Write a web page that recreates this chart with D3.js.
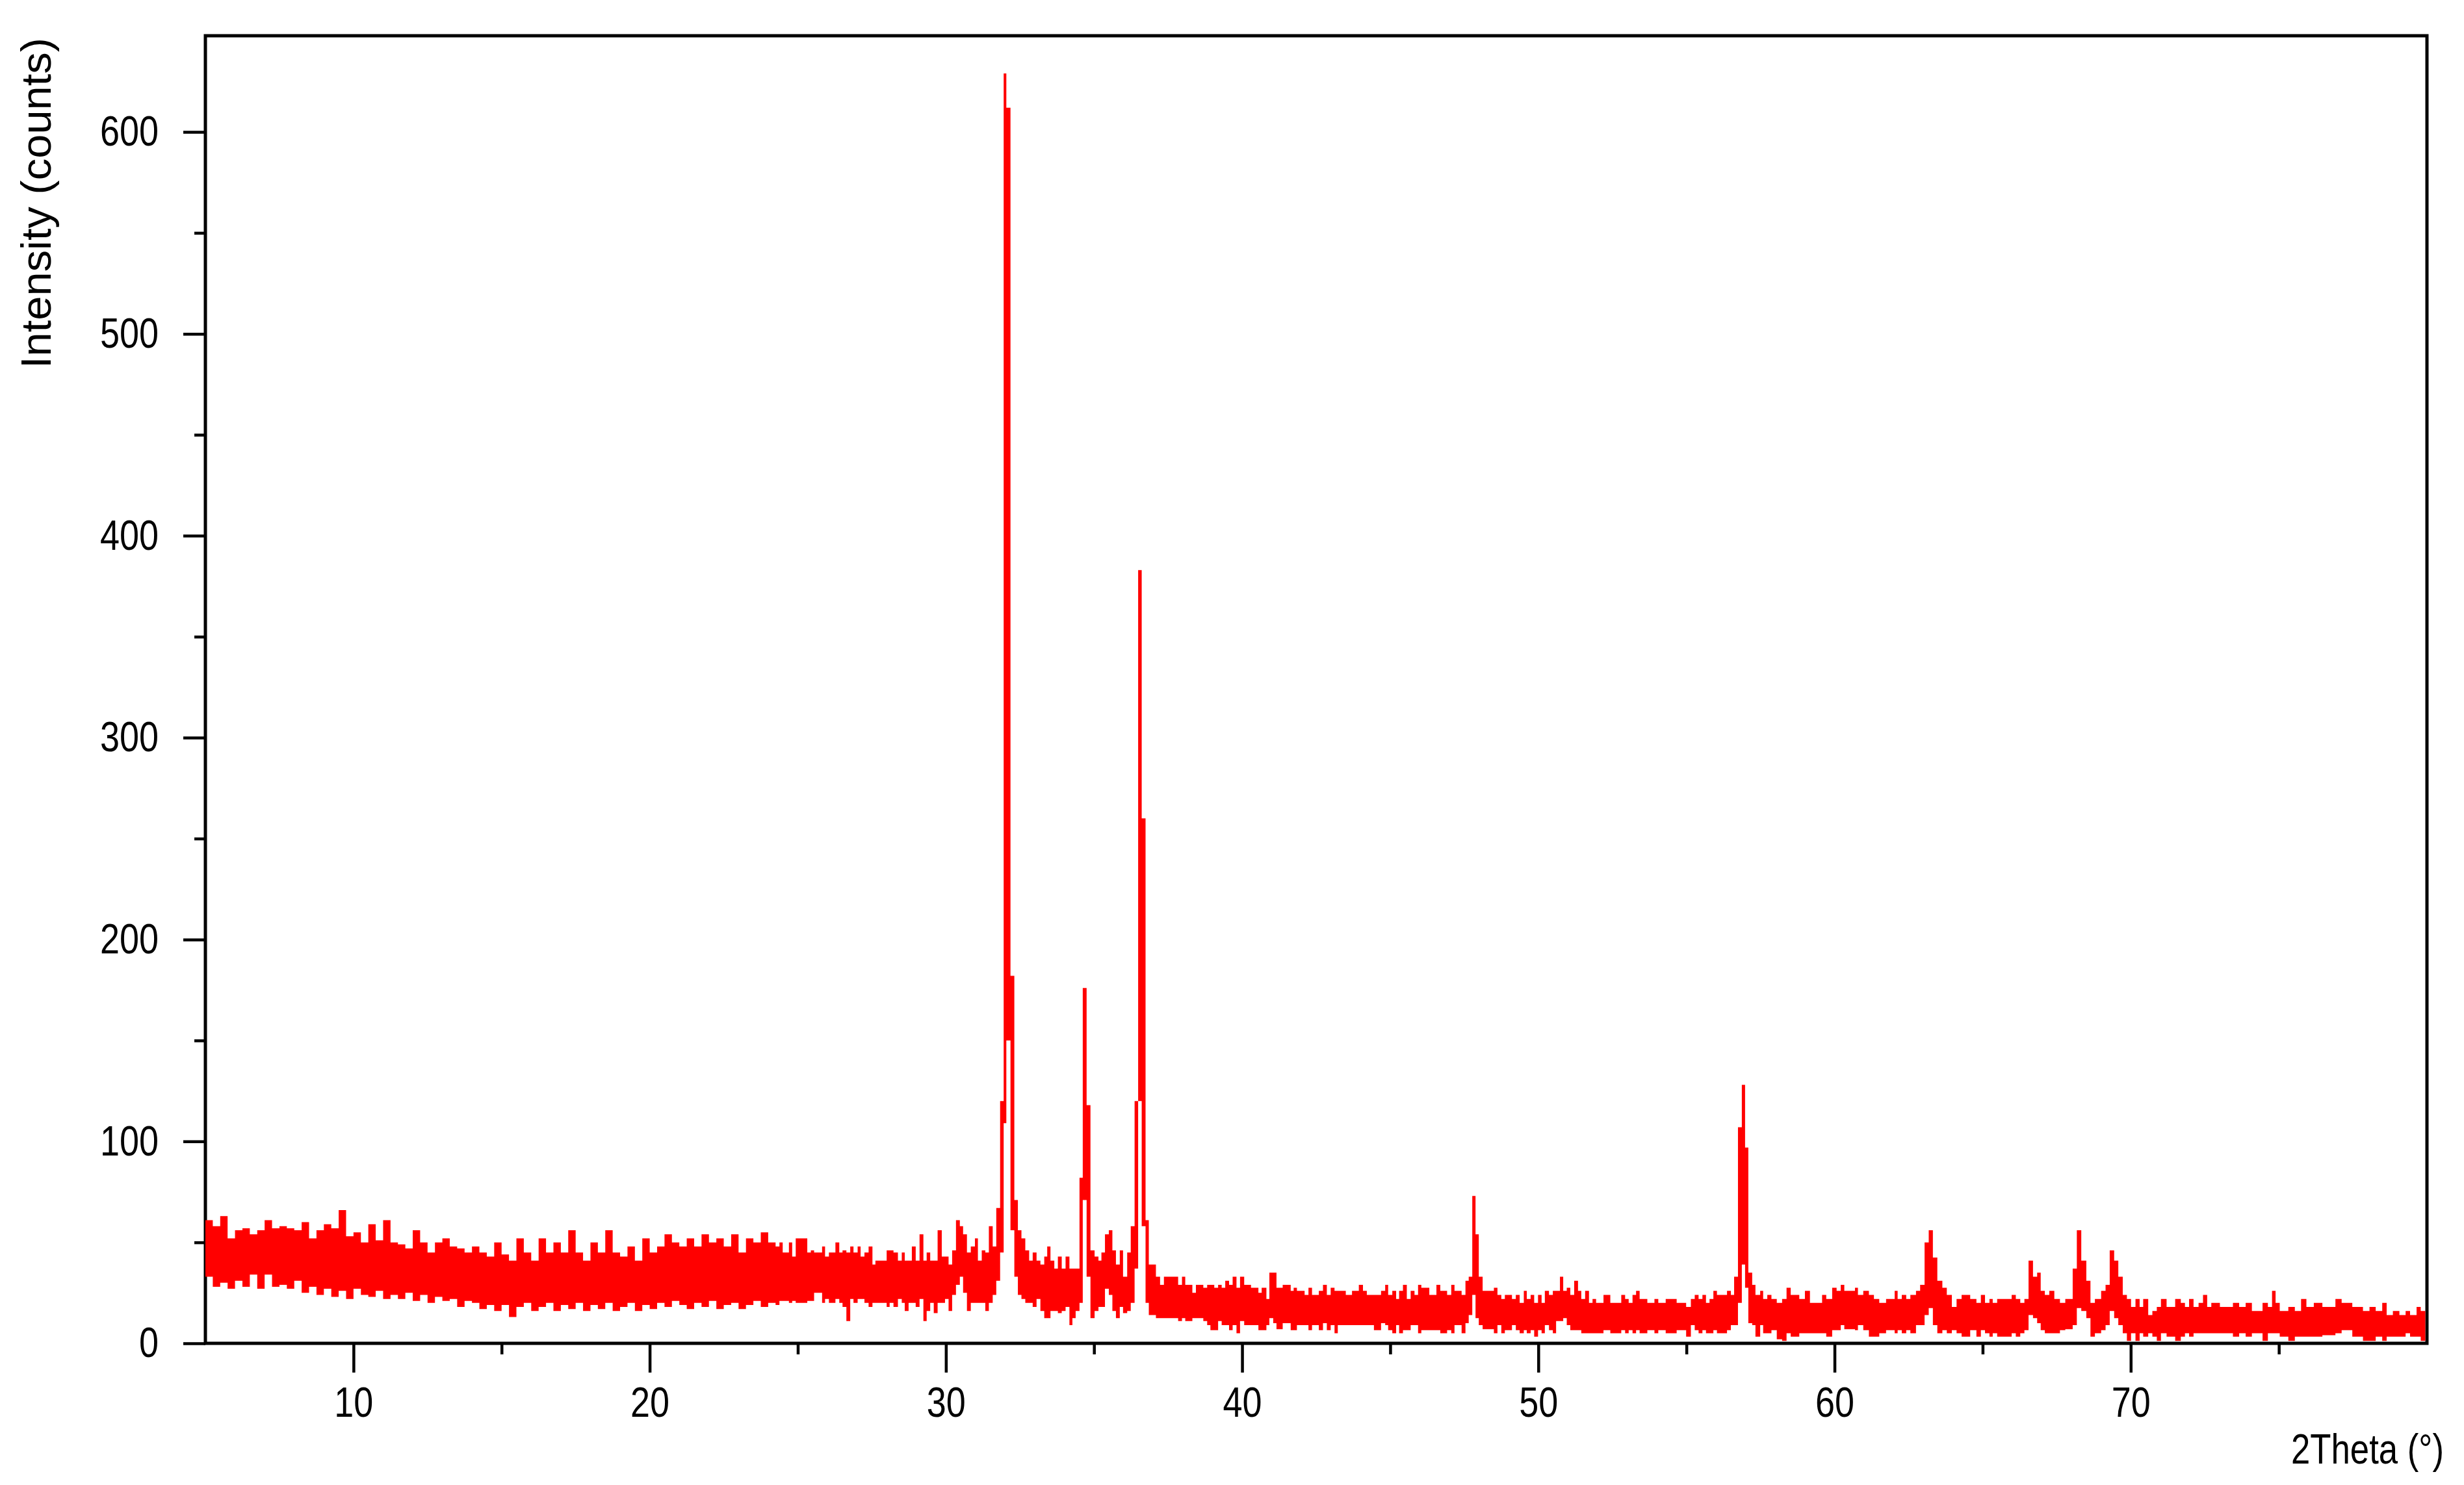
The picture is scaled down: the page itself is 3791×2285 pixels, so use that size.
<!DOCTYPE html>
<meta charset="utf-8">
<head>
    <script type="text/javascript" src="https://cdn.jsdelivr.net/npm/d3@7/dist/d3.min.js"></script>
    <style>
        body { margin: 0; background: #fff; }
        .tick text { font-family: "Liberation Sans", Arial, sans-serif; font-size: 65px; fill: #000; }
        .title { font-family: "Liberation Sans", Arial, sans-serif; font-size: 65px; fill: #000; }
    </style>
</head>
<body>
<div id="chart"></div>
<script>

// pattern as pixel columns: [2theta start, lowest count, highest count]
let band05to24 = [
    [5.0, 33, 61], [5.25, 28, 58], [5.5, 30, 63], [5.75, 27, 52], [6.0, 31, 56], [6.25, 28, 57],
    [6.5, 34, 54], [6.75, 27, 56], [7.0, 34, 61], [7.25, 28, 57], [7.5, 29, 58], [7.75, 27, 57],
    [8.0, 31, 56], [8.25, 25, 60], [8.5, 28, 52], [8.75, 24, 56], [9.0, 27, 59], [9.25, 23, 57],
    [9.5, 26, 66], [9.75, 22, 53], [10.0, 27, 55], [10.25, 24, 50], [10.5, 23, 59], [10.75, 26, 51],
    [11.0, 22, 61], [11.25, 24, 50], [11.5, 22, 49], [11.75, 25, 47], [12.0, 21, 56], [12.25, 24, 50],
    [12.5, 20, 45], [12.75, 23, 50], [13.0, 21, 52], [13.25, 22, 48], [13.5, 18, 47], [13.75, 21, 45],
    [14.0, 20, 48], [14.25, 17, 45], [14.5, 19, 43], [14.75, 16, 50], [15.0, 19, 44], [15.25, 13, 41],
    [15.5, 18, 52], [15.75, 20, 45], [16.0, 16, 41], [16.25, 18, 52], [16.5, 20, 45], [16.75, 16, 50],
    [17.0, 19, 45], [17.25, 17, 56], [17.5, 20, 45], [17.75, 16, 41], [18.0, 19, 50], [18.25, 17, 45],
    [18.5, 20, 56], [18.75, 16, 45], [19.0, 18, 43], [19.25, 20, 48], [19.5, 16, 41], [19.75, 19, 52],
    [20.0, 17, 45], [20.25, 20, 48], [20.5, 18, 54], [20.75, 21, 50], [21.0, 19, 48], [21.25, 17, 52],
    [21.5, 20, 48], [21.75, 18, 54], [22.0, 21, 50], [22.25, 17, 52], [22.5, 19, 48], [22.75, 20, 54],
    [23.0, 17, 45], [23.25, 19, 52], [23.5, 21, 50], [23.75, 18, 55], [24.0, 20, 50], [24.25, 19, 48]
]

let band24to41 = [
    [24.38, 21, 50], [24.49, 21, 45], [24.7, 20, 50], [24.81, 21, 43], [24.93, 20, 52], [25.32, 21, 45],
    [25.44, 21, 46], [25.55, 25, 45], [25.82, 20, 48], [25.92, 22, 43], [26.05, 20, 45], [26.27, 22, 50],
    [26.4, 20, 45], [26.51, 18, 46], [26.64, 11, 45], [26.77, 22, 48], [26.88, 20, 45], [27.02, 22, 48],
    [27.12, 22, 43], [27.25, 20, 45], [27.39, 18, 48], [27.52, 20, 39], [27.62, 20, 41], [28.0, 18, 46],
    [28.1, 20, 46], [28.23, 18, 45], [28.38, 22, 41], [28.51, 20, 45], [28.61, 16, 41], [28.74, 20, 41],
    [28.85, 20, 48], [28.98, 18, 41], [29.11, 22, 54], [29.24, 11, 41], [29.35, 16, 45], [29.47, 20, 41],
    [29.59, 15, 41], [29.72, 20, 56], [29.86, 20, 43], [29.97, 22, 43], [30.09, 16, 39], [30.21, 24, 46],
    [30.34, 29, 61], [30.47, 33, 58], [30.58, 25, 54], [30.71, 16, 45], [30.84, 20, 48], [30.98, 20, 52],
    [31.08, 20, 41], [31.21, 20, 46], [31.33, 16, 45], [31.45, 20, 58], [31.58, 24, 48], [31.7, 31, 67],
    [31.83, 45, 120], [31.95, 109, 629], [32.04, 150, 612], [32.18, 56, 182], [32.31, 33, 71], [32.43, 24, 56],
    [32.55, 22, 52], [32.68, 20, 46], [32.81, 20, 41], [32.93, 18, 45], [33.06, 22, 41], [33.19, 16, 39],
    [33.32, 12.5, 43], [33.42, 12.5, 48], [33.53, 16, 41], [33.66, 16, 37], [33.78, 15, 43], [33.91, 16, 37],
    [34.04, 18, 43], [34.17, 9, 37], [34.27, 12.5, 37], [34.38, 16, 37], [34.51, 20, 82], [34.62, 71, 176],
    [34.75, 33, 118], [34.88, 12.5, 46], [35.02, 16, 43], [35.15, 18, 41], [35.25, 18, 45], [35.37, 27, 54],
    [35.5, 24, 56], [35.62, 16, 46], [35.74, 12.5, 39], [35.87, 18, 46], [35.98, 15, 33], [36.12, 16, 45],
    [36.24, 20, 58], [36.37, 37, 120], [36.49, 120, 383], [36.61, 58, 260], [36.74, 20, 61], [36.85, 14, 39],
    [37.09, 12.5, 33], [37.23, 12.5, 29], [37.36, 12.5, 33], [37.84, 11, 29], [37.97, 12.5, 33], [38.08, 11, 29],
    [38.32, 12.5, 25], [38.44, 12.5, 29], [38.69, 11, 27.5], [38.82, 9, 29], [38.93, 6.5, 29], [39.06, 6.5, 27.5],
    [39.19, 11, 29], [39.31, 9, 27.5], [39.43, 9, 31], [39.56, 6.5, 29], [39.68, 9, 33], [39.81, 5, 27.5],
    [39.93, 11, 33], [40.07, 9, 29], [40.3, 9, 27.5], [40.55, 6.5, 25], [40.66, 6.5, 27.5], [40.82, 9, 22],
    [40.92, 12.5, 35]
]

let band41to58 = [
    [41.05, 10, 35], [41.16, 7, 27.5], [41.37, 10, 29], [41.64, 6.5, 26], [41.74, 6.5, 27.5], [41.85, 9, 26],
    [42.11, 9, 24], [42.24, 6.5, 27.5], [42.36, 9, 24], [42.59, 6.5, 26], [42.73, 10, 29], [42.86, 6.5, 24],
    [42.99, 9, 27.5], [43.12, 5, 26], [43.23, 9, 26], [43.5, 9, 24], [43.71, 9, 26], [43.94, 9, 29],
    [44.08, 9, 26], [44.21, 9, 24], [44.45, 6.5, 24], [44.69, 10, 26], [44.83, 9, 29], [44.93, 6.5, 24],
    [45.07, 5, 26], [45.2, 9, 22], [45.3, 5, 26], [45.43, 6.5, 29], [45.56, 6.5, 22], [45.69, 9, 26],
    [45.82, 9, 24], [45.94, 5, 29], [46.05, 6.5, 27.5], [46.32, 6.5, 24], [46.56, 6.5, 29], [46.69, 5, 26],
    [46.92, 6.5, 24], [47.06, 5, 29], [47.17, 9, 26], [47.41, 5, 24], [47.54, 10, 31], [47.65, 14, 33],
    [47.77, 24, 73], [47.88, 12.5, 54], [47.99, 9, 33], [48.12, 7, 26], [48.5, 5, 27.5], [48.62, 9, 24],
    [48.75, 5, 22], [48.87, 6.5, 24], [49.11, 9, 22], [49.24, 6.5, 24], [49.37, 5, 20], [49.51, 6.5, 26],
    [49.61, 5, 22], [49.74, 6.5, 24], [49.86, 3.3, 20], [49.99, 6.5, 24], [50.11, 5, 20], [50.22, 9, 26],
    [50.36, 6.5, 24], [50.49, 5, 26], [50.6, 11, 26], [50.73, 11, 33], [50.84, 12.5, 26], [50.96, 9, 27.5],
    [51.08, 6.5, 24], [51.21, 6.5, 31], [51.34, 6.5, 26], [51.45, 5, 22], [51.58, 5, 26], [51.71, 5, 20],
    [51.83, 5, 22], [51.95, 5, 20], [52.2, 6.5, 24], [52.43, 5, 20], [52.8, 6.5, 24], [52.93, 5, 22],
    [53.05, 6.5, 20], [53.18, 5, 24], [53.3, 6.5, 26], [53.42, 5, 22], [53.68, 6.5, 20], [53.92, 5, 22],
    [54.05, 6.5, 20], [54.3, 5, 22], [54.67, 6.5, 20], [54.99, 3.3, 18], [55.15, 9, 22], [55.28, 6.5, 24],
    [55.41, 5, 22], [55.54, 6.5, 24], [55.66, 5, 20], [55.78, 5, 22], [55.91, 6.5, 26], [56.03, 5, 24],
    [56.37, 6.5, 26], [56.5, 9, 24], [56.61, 9, 33], [56.74, 20, 107], [56.87, 39, 128], [56.98, 27.5, 97],
    [57.09, 10, 35], [57.22, 9, 29], [57.33, 3.3, 24], [57.49, 9, 26], [57.59, 5, 22]
]

let band58to80 = [
    [57.73, 5, 24], [57.87, 6.5, 22], [58.05, 2, 20], [58.23, 1.2, 22], [58.38, 5, 27.5], [58.52, 3.3, 24],
    [58.81, 5, 22], [59.0, 5, 26], [59.17, 5, 20], [59.58, 5, 24], [59.72, 3.3, 22], [59.92, 6.5, 27.5],
    [60.07, 6.5, 26], [60.21, 9, 29], [60.33, 7, 26], [60.69, 6.5, 27.5], [60.79, 9, 24], [60.97, 6.5, 26],
    [61.16, 3.3, 24], [61.33, 3.3, 22], [61.51, 5, 20], [61.74, 6.5, 22], [62.03, 5, 26], [62.13, 6.5, 22],
    [62.27, 5, 24], [62.42, 6.5, 22], [62.56, 5, 24], [62.75, 9, 26], [62.89, 9, 29], [63.04, 14, 50],
    [63.18, 17.5, 56], [63.32, 9, 42.5], [63.47, 5, 31], [63.64, 6.5, 27.5], [63.79, 5, 24], [63.96, 6.5, 18],
    [64.12, 5, 22], [64.29, 3.3, 24], [64.58, 6.5, 22], [64.79, 3.3, 20], [64.94, 6.5, 24], [65.08, 5, 20],
    [65.23, 3.3, 22], [65.34, 5, 20], [65.49, 3.3, 22], [65.98, 5, 24], [66.12, 3.3, 22], [66.27, 5, 20],
    [66.41, 6.5, 22], [66.55, 14, 41], [66.7, 12.5, 33], [66.84, 10, 35], [66.96, 6.5, 26], [67.1, 5, 24],
    [67.25, 5, 26], [67.42, 5, 22], [67.61, 6.5, 20], [67.79, 7, 22], [68.04, 9, 37], [68.18, 17.5, 56],
    [68.33, 16, 41], [68.5, 12.5, 31], [68.64, 3.3, 20], [68.79, 5, 22], [69.0, 6.5, 26], [69.15, 9, 29],
    [69.29, 16, 46], [69.44, 12.5, 41], [69.58, 9, 33], [69.73, 5, 24], [69.87, 1.2, 22], [70.01, 5, 18],
    [70.16, 1.2, 22], [70.3, 5, 18], [70.42, 3.3, 22], [70.59, 5, 14], [70.73, 3.3, 16], [70.88, 1.2, 18],
    [71.02, 5, 22], [71.21, 3.3, 18], [71.5, 1.2, 22], [71.69, 3.3, 20], [71.83, 5, 18], [71.97, 3.3, 22],
    [72.12, 5, 18], [72.29, 5, 20], [72.44, 5, 24], [72.58, 5, 18], [72.72, 5, 20], [73.01, 5, 18],
    [73.45, 3.3, 20], [73.66, 5, 18], [73.88, 3.3, 20], [74.09, 5, 16], [74.45, 1.2, 20], [74.63, 5, 18],
    [74.77, 5, 26], [74.89, 5, 20], [75.03, 3.3, 16], [75.32, 1.2, 18], [75.54, 3.3, 16], [75.75, 3.3, 22],
    [75.93, 3.3, 18], [76.18, 3.3, 20], [76.47, 4, 18], [76.91, 5, 22], [77.12, 6.5, 20], [77.48, 3.3, 18],
    [77.84, 1.2, 16], [78.06, 1.2, 18], [78.27, 3.3, 16], [78.49, 1.2, 20], [78.64, 3.3, 14], [78.85, 3.3, 16],
    [79.07, 3.3, 14], [79.28, 5, 16], [79.43, 3.3, 14], [79.65, 3.3, 18], [79.79, 1.2, 16], [80.0, 1.2, 16]
]

let xMajorTicks = [10, 20, 30, 40, 50, 60, 70]
let xMinorTicks = [15, 25, 35, 45, 55, 65, 75]
let yMajorTicks = [0, 100, 200, 300, 400, 500, 600]
let yMinorTicks = [50, 150, 250, 350, 450, 550]

let xTitle = "2Theta (°)"
let yTitle = "Intensity (counts)"

let svg_width = 3791
let svg_height = 2285

let plot = { left: 316, right: 3734, top: 55, bottom: 2067 }

// the labels in the picture use a narrow face, so squeeze each digit to this width
let digitWidth = 30

let svg = d3.select("#chart")
    .append("svg")
    .attr("width", svg_width)
    .attr("height", svg_height)

let x = d3.scaleLinear()
    .domain([5, 80])
    .range([plot.left, plot.right])

let y = d3.scaleLinear()
    .domain([0, 600])
    .range([plot.bottom, 203])

// frame
svg.append("rect")
    .attr("x", plot.left)
    .attr("y", plot.top)
    .attr("width", plot.right - plot.left)
    .attr("height", plot.bottom - plot.top)
    .attr("fill", "none")
    .attr("stroke", "#000")
    .attr("stroke-width", 5)

// y axis, major ticks with labels and minor ticks
svg.append("g")
    .attr("transform", "translate(" + plot.left + ",0)")
    .call(d3.axisLeft(y).tickValues(yMajorTicks).tickSize(34).tickPadding(38))

svg.append("g")
    .attr("transform", "translate(" + plot.left + ",0)")
    .call(d3.axisLeft(y).tickValues(yMinorTicks).tickSize(17).tickFormat(""))

svg.append("g")
    .attr("transform", "translate(0," + plot.bottom + ")")
    .call(d3.axisBottom(x).tickValues(xMajorTicks).tickSize(45).tickPadding(22))

svg.append("g")
    .attr("transform", "translate(0," + plot.bottom + ")")
    .call(d3.axisBottom(x).tickValues(xMinorTicks).tickSize(17).tickFormat(""))

svg.selectAll(".domain").remove()
svg.selectAll(".tick line")
    .attr("stroke", "#000")
    .attr("stroke-width", 4.5)

svg.selectAll(".tick text")
    .filter(function (d) { return this.textContent !== "" })
    .attr("textLength", function () { return this.textContent.length * digitWidth })
    .attr("lengthAdjust", "spacingAndGlyphs")

// the data
let pattern = band05to24.concat(band24to41, band41to58, band58to80)

svg.append("clipPath")
    .attr("id", "plot-clip")
    .append("rect")
    .attr("x", plot.left - 3)
    .attr("y", plot.top + 3)
    .attr("width", plot.right - plot.left + 0.5)
    .attr("height", plot.bottom - plot.top - 6)

svg.append("path")
    .datum(pattern)
    .attr("clip-path", "url(#plot-clip)")
    .attr("fill", "#ff0000")
    .attr("stroke", "none")
    .attr("d", d3.area()
        .curve(d3.curveStepAfter)
        .x(function (d) { return x(d[0]) })
        .y0(function (d) { return y(d[1]) })
        .y1(function (d) { return y(d[2]) })
    )

// axis titles
svg.append("text")
    .attr("class", "title")
    .attr("transform", "translate(78,567) rotate(-90)")
    .attr("text-anchor", "start")
    .attr("textLength", 509)
    .attr("lengthAdjust", "spacingAndGlyphs")
    .text(yTitle)

svg.append("text")
    .attr("class", "title")
    .attr("x", 3525)
    .attr("y", 2252)
    .attr("text-anchor", "start")
    .attr("textLength", 235)
    .attr("lengthAdjust", "spacingAndGlyphs")
    .text(xTitle)

</script>
</body>
